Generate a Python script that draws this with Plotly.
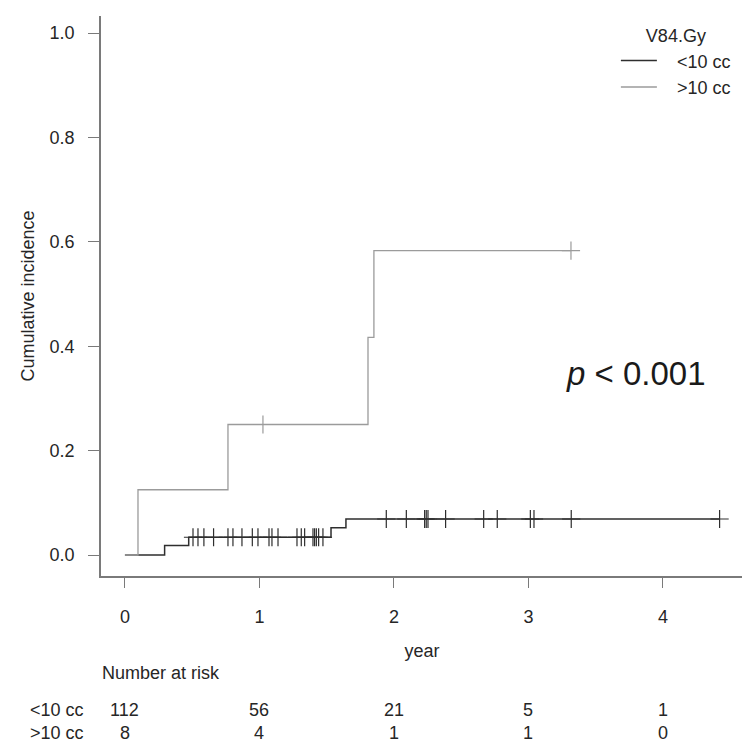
import numpy as np
import plotly.graph_objects as go

# ---------------- data ----------------
# <10 cc group (black): step times (years) and cumulative incidence after each step
lt_times = [0.0, 0.295, 0.474, 1.532, 1.643]
lt_levels = [0.0, 0.018, 0.034, 0.052, 0.069]
lt_end = 4.421
lt_censor = [0.506, 0.543, 0.587, 0.659, 0.766, 0.803, 0.870, 0.947, 0.989,
             1.071, 1.093, 1.138, 1.279, 1.311, 1.336, 1.398, 1.410, 1.423,
             1.440, 1.472, 1.943, 2.092, 2.228, 2.240, 2.253, 2.384, 2.667,
             2.768, 3.014, 3.041, 3.318, 4.421]

# >10 cc group (gray)
gt_times = [0.0, 0.097, 0.766, 1.807, 1.851]
gt_levels = [0.0, 0.125, 0.250, 0.417, 0.583]
gt_end = 3.316
gt_censor = [1.026, 3.316]

risk_times = [0, 1, 2, 3, 4]
risk_lt = [112, 56, 21, 5, 1]
risk_gt = [8, 4, 1, 1, 0]
group_labels = ["&lt;10 cc", "&gt;10 cc"]

x_ticks = [0, 1, 2, 3, 4]
y_ticks = [0.0, 0.2, 0.4, 0.6, 0.8, 1.0]

BLACK = "#2e2e2e"
GRAY = "#9b9b9b"
AXIS = "#7a7a7a"
TEXT = "#262626"
FONT = "Liberation Sans, Arial, sans-serif"
NB = "\u00a0"


def level_at(times, levels, t):
    idx = np.searchsorted(np.array(times), t, side="right") - 1
    return [levels[i] for i in np.atleast_1d(idx)]


fig = go.Figure()

for times, levels, end, cens, color, name, lw in [
    (lt_times, lt_levels, lt_end, lt_censor, BLACK, group_labels[0], 1.5),
    (gt_times, gt_levels, gt_end, gt_censor, GRAY, group_labels[1], 1.3),
]:
    xs = list(times) + [end]
    ys = list(levels) + [levels[-1]]
    fig.add_trace(go.Scatter(x=xs, y=ys, mode="lines", line=dict(color=color, width=lw, shape="hv"),
                             name=NB * 3 + name, showlegend=True, hoverinfo="skip"))
    fig.add_trace(go.Scatter(x=cens, y=level_at(times, levels, cens), mode="markers",
                             marker=dict(symbol="cross-thin", size=13, line=dict(color=color, width=1.2)),
                             showlegend=False, hoverinfo="skip"))

annotations = []
# number at risk table
annotations.append(dict(x=-0.0016, y=-0.1732, xref="paper", yref="paper", text="Number at risk",
                        showarrow=False, xanchor="left", yanchor="middle",
                        font=dict(family=FONT, size=18, color=TEXT)))
for row, (vals, lab, yy) in enumerate([(risk_lt, group_labels[0], -0.2393), (risk_gt, group_labels[1], -0.2804)]):
    annotations.append(dict(x=-0.1137, y=yy, xref="paper", yref="paper", text=lab, showarrow=False,
                            xanchor="left", yanchor="middle", font=dict(family=FONT, size=18, color=TEXT)))
    for t, v in zip(risk_times, vals):
        annotations.append(dict(x=t, y=yy, xref="x", yref="paper", text=str(v), showarrow=False,
                                xanchor="center", yanchor="middle", font=dict(family=FONT, size=18, color=TEXT)))
# p-value
annotations.append(dict(x=0.7212, y=0.3625, xref="paper", yref="paper", text="<i>p</i> &lt; 0.001",
                        showarrow=False, xanchor="left", yanchor="middle",
                        font=dict(family=FONT, size=33, color="#1a1a1a")))

fig.update_layout(
    width=750, height=755,
    margin=dict(l=93, r=15, t=8, b=187),
    plot_bgcolor="white", paper_bgcolor="white",
    font=dict(family=FONT, size=18, color=TEXT),
    annotations=annotations,
    legend=dict(x=0.802, y=0.9946, xanchor="left", yanchor="top",
                title=dict(text="V84.Gy", side="top center", font=dict(size=18)),
                font=dict(size=18), bgcolor="rgba(0,0,0,0)", itemwidth=36,
                tracegroupgap=0),
    xaxis=dict(range=[-0.178, 4.595], tickvals=x_ticks, ticktext=[str(v) for v in x_ticks],
               ticks="outside", ticklen=10, tickwidth=1, tickcolor=AXIS,
               showline=True, linecolor=AXIS, linewidth=1.5, showgrid=False, zeroline=False,
               title=dict(text="year", standoff=18, font=dict(size=18)),
               tickfont=dict(size=18), ticklabelstandoff=14),
    yaxis=dict(range=[-0.0402, 1.0326], tickvals=y_ticks, ticktext=[f"{v:.1f}" for v in y_ticks],
               ticks="outside", ticklen=11, tickwidth=1, tickcolor=AXIS,
               showline=True, linecolor=AXIS, linewidth=1.5, showgrid=False, zeroline=False,
               title=dict(text="Cumulative incidence", standoff=10, font=dict(size=18)),
               tickfont=dict(size=18), ticklabelstandoff=10),
)

fig.write_html("out.html")
